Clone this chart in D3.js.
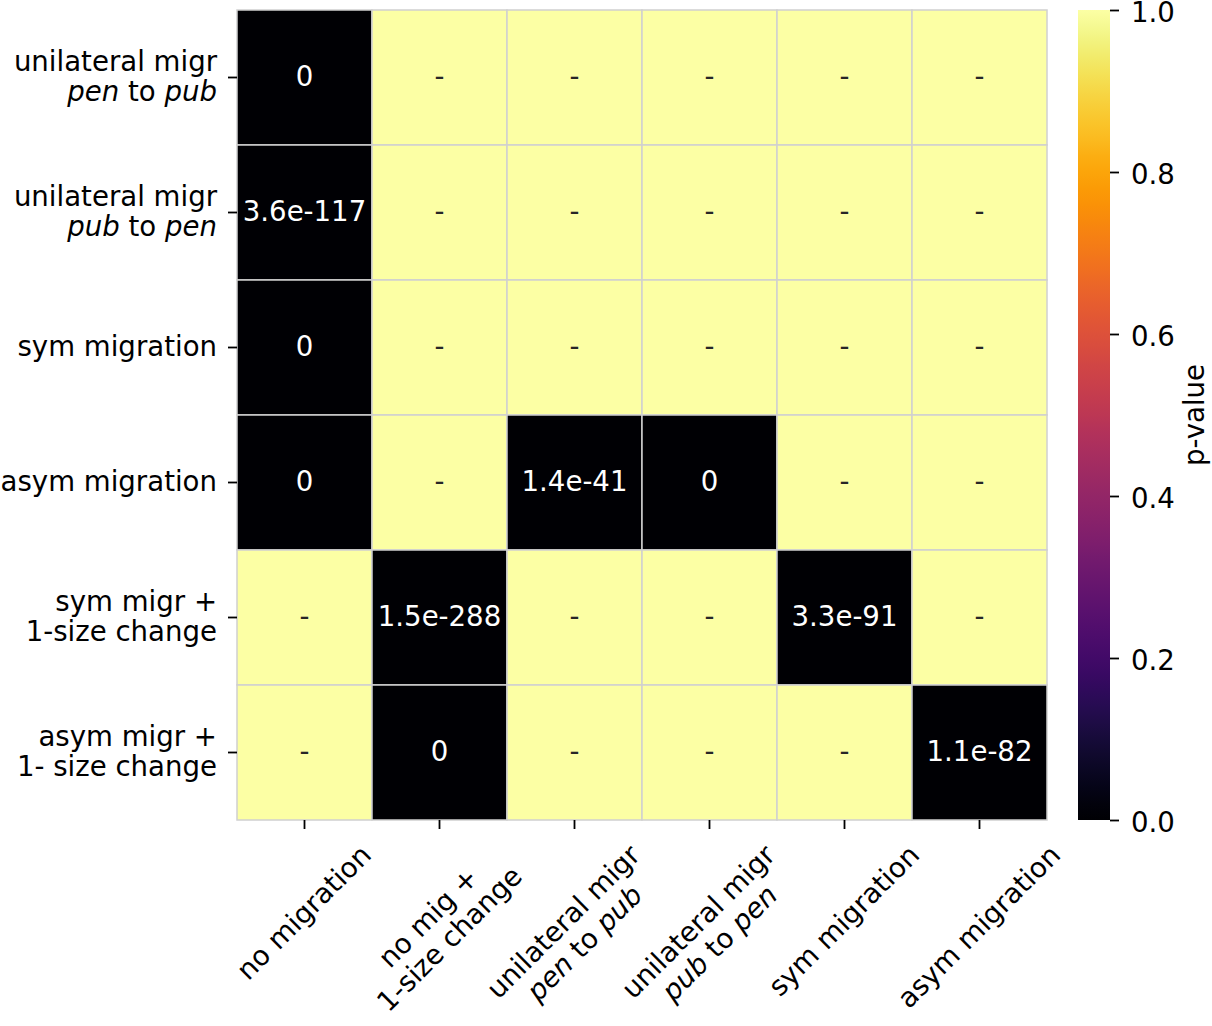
<!DOCTYPE html>
<html>
<head>
<meta charset="utf-8">
<script src="https://cdn.jsdelivr.net/npm/d3@7"></script>
<style>
  html, body { margin: 0; padding: 0; background: #fff; }
  svg { display: block; }
  text { font-family: "DejaVu Sans", sans-serif; }
</style>
</head>
<body>
<svg id="chart" width="1212" height="1026"></svg>
<script>
// ---------------- data ----------------
// row labels (y axis); _word_ = italic
const rowLabels = [
  ["unilateral migr", "_pen_ to _pub_"],
  ["unilateral migr", "_pub_ to _pen_"],
  ["sym migration"],
  ["asym migration"],
  ["sym migr +", "1-size change"],
  ["asym migr +", "1- size change"]
];
// column labels (x axis)
const colLabels = [
  ["no migration"],
  ["no mig +", "1-size change"],
  ["unilateral migr", "_pen_ to _pub_"],
  ["unilateral migr", "_pub_ to _pen_"],
  ["sym migration"],
  ["asym migration"]
];
// p-values; null = not tested ("-"), shown with value 1
const pvalues = [
  [0,         null,      null,     null, null,    null],
  [3.6e-117,  null,      null,     null, null,    null],
  [0,         null,      null,     null, null,    null],
  [0,         null,      1.4e-41,  0,    null,    null],
  [null,      1.5e-288,  null,     null, 3.3e-91, null],
  [null,      0,         null,     null, null,    1.1e-82]
];
const colorbarTicks = [0, 0.2, 0.4, 0.6, 0.8, 1.0];
const colorbarLabel = "p-value";

// ---------------- layout ----------------
const fs = 27.6;
const svg = d3.select("#chart");
const pL = 237, pT = 10, pR = 1047, pB = 820;
const x = d3.scaleBand().domain(d3.range(colLabels.length)).range([pL, pR]);
const y = d3.scaleBand().domain(d3.range(rowLabels.length)).range([pT, pB]);
const color = d3.scaleSequential(d3.interpolateInferno).domain([0, 1]);
const textDark = "#000000";

function addSegments(textSel, line) {
  const parts = line.split(/(_[^_]+_)/).filter(s => s.length);
  parts.forEach(p => {
    const it = p.startsWith("_") && p.endsWith("_");
    textSel.append("tspan")
      .attr("font-style", it ? "italic" : "normal")
      .text(it ? p.slice(1, -1) : p);
  });
}

// cells
const cells = [];
pvalues.forEach((row, i) => row.forEach((v, j) => cells.push({i, j, v})));
const g = svg.append("g");
g.selectAll("rect").data(cells).join("rect")
  .attr("x", d => x(d.j)).attr("y", d => y(d.i))
  .attr("width", x.bandwidth()).attr("height", y.bandwidth())
  .attr("fill", d => color(d.v === null ? 1 : d.v))
  .attr("stroke", "#d0d0d0").attr("stroke-width", 1.5);

g.selectAll("text.annot").data(cells).join("text")
  .attr("class", "annot")
  .attr("x", d => x(d.j) + x.bandwidth() / 2)
  .attr("y", d => y(d.i) + y.bandwidth() / 2 + 0.31 * fs)
  .attr("text-anchor", "middle")
  .attr("font-size", fs)
  .attr("fill", d => (d.v === null ? 1 : d.v) > 0.5 ? "#262626" : "#ffffff")
  .text(d => d.v === null ? "-" : (d.v === 0 ? "0" : d.v.toExponential(1)));

// y axis ticks + labels
const lineH = 30;
const yAxisG = svg.append("g");
rowLabels.forEach((lines, i) => {
  const rc = y(i) + y.bandwidth() / 2;
  yAxisG.append("line").attr("x1", pL - 9).attr("x2", pL)
    .attr("y1", rc).attr("y2", rc).attr("stroke", textDark).attr("stroke-width", 1.8);
  lines.forEach((ln, k) => {
    const t = yAxisG.append("text")
      .attr("x", pL - 20)
      .attr("y", rc + (k - (lines.length - 1) / 2) * lineH + 0.31 * fs)
      .attr("text-anchor", "end").attr("font-size", fs).attr("fill", textDark);
    addSegments(t, ln);
  });
});

// x axis ticks + rotated labels
const xAxisG = svg.append("g");
const labelTop = 839;
colLabels.forEach((lines, j) => {
  const cx = x(j) + x.bandwidth() / 2;
  xAxisG.append("line").attr("x1", cx).attr("x2", cx)
    .attr("y1", pB).attr("y2", pB + 9).attr("stroke", textDark).attr("stroke-width", 1.8);
  const grp = xAxisG.append("g");
  const texts = lines.map((ln, k) => {
    const t = grp.append("text")
      .attr("x", 0)
      .attr("y", (k - (lines.length - 1) / 2) * lineH + 0.31 * fs)
      .attr("text-anchor", "middle").attr("font-size", fs).attr("fill", textDark);
    addSegments(t, ln);
    return t;
  });
  const w = d3.max(texts, t => t.node().getComputedTextLength());
  const h = lines.length * lineH + 3;
  const half = (w + h) / (2 * Math.SQRT2);
  grp.attr("transform", `translate(${cx},${labelTop + half}) rotate(-45)`);
});

// colorbar
const cbX = 1078, cbW = 32;
const cbScale = d3.scaleLinear().domain([0, 1]).range([pB, pT]);
const defs = svg.append("defs");
const grad = defs.append("linearGradient").attr("id", "cbgrad")
  .attr("x1", "0").attr("y1", "1").attr("x2", "0").attr("y2", "0");
d3.range(0, 1.0001, 0.02).forEach(t => {
  grad.append("stop").attr("offset", t).attr("stop-color", color(t));
});
svg.append("rect").attr("x", cbX).attr("y", pT).attr("width", cbW)
  .attr("height", pB - pT).attr("fill", "url(#cbgrad)");
const cbAxis = svg.append("g").attr("transform", `translate(${cbX + cbW},0)`)
  .call(d3.axisRight(cbScale).tickValues(colorbarTicks).tickFormat(d3.format(".1f"))
    .tickSize(9).tickPadding(12));
cbAxis.select(".domain").remove();
cbAxis.selectAll("line").attr("stroke", textDark).attr("stroke-width", 1.8);
cbAxis.selectAll("text").attr("font-size", fs).attr("fill", textDark)
  .attr("font-family", "DejaVu Sans").attr("dy", "0.42em");

svg.append("text")
  .attr("transform", `translate(1204,${(pT + pB) / 2}) rotate(-90)`)
  .attr("text-anchor", "middle").attr("font-size", fs).attr("fill", textDark)
  .text(colorbarLabel);
</script>
</body>
</html>
